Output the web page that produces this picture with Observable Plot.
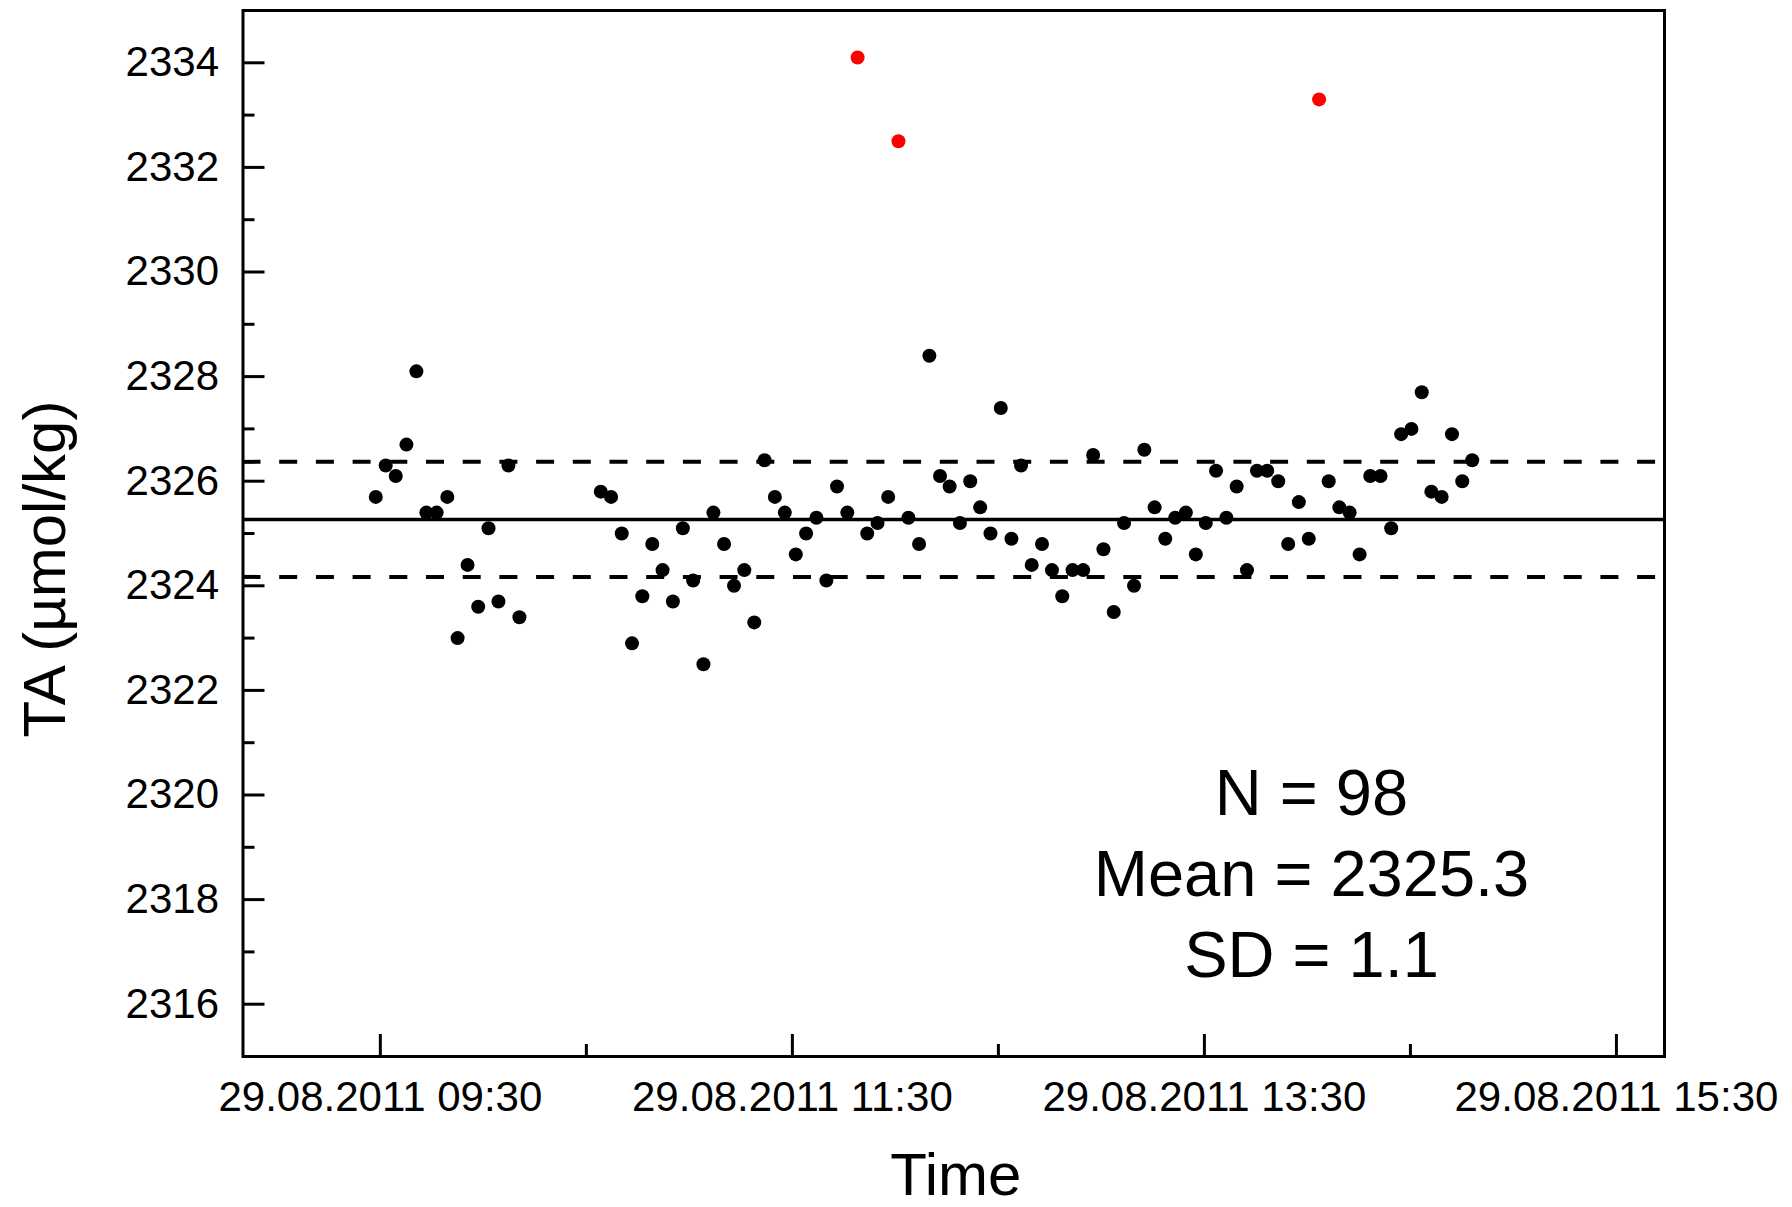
<!DOCTYPE html>
<html>
<head>
<meta charset="utf-8">
<script src="https://cdn.jsdelivr.net/npm/d3@7"></script>
<script src="https://cdn.jsdelivr.net/npm/@observablehq/plot@0.6"></script>
<style>
  html, body { margin: 0; padding: 0; background: #fff; }
  #chart svg { display: block; font-family: "Liberation Sans", Arial, sans-serif; }
</style>
</head>
<body>
<div id="chart"></div>
<script>
// ---- data (29.08.2011) ----
const sampleTimes = [
  "09:28:40","09:31:34","09:34:29","09:37:36","09:40:30","09:43:24","09:46:24","09:49:30","09:52:30","09:55:24",
  "09:58:30","10:01:30","10:04:24","10:07:18","10:10:30",
  "10:34:12","10:37:12","10:40:18","10:43:18","10:46:18","10:49:12","10:52:12","10:55:12","10:58:06","11:01:06",
  "11:04:06","11:07:00","11:10:06","11:13:00","11:16:00","11:18:54","11:21:54","11:24:54","11:27:48","11:31:00",
  "11:34:00","11:37:00","11:39:54","11:43:00","11:46:00","11:51:48","11:54:48","11:57:54","12:03:48","12:06:54",
  "12:09:54","12:13:00","12:15:48","12:18:48","12:21:48","12:24:42","12:27:42","12:30:42","12:33:48","12:36:36",
  "12:39:42","12:42:42","12:45:36","12:48:36","12:51:36","12:54:42","12:57:36","13:00:36","13:03:36","13:06:36",
  "13:09:30","13:12:30","13:15:30","13:18:36","13:21:30","13:24:36","13:27:30","13:30:24","13:33:24","13:36:24",
  "13:39:24","13:42:24","13:45:18","13:48:18","13:51:30","13:54:24","13:57:30","14:00:24","14:06:12","14:09:18",
  "14:12:18","14:15:12","14:18:18","14:21:18","14:24:24","14:27:18","14:30:18","14:33:18","14:36:06","14:39:06",
  "14:42:06","14:45:06","14:48:00"
];
const sampleTA = [
  2325.7, 2326.3, 2326.1, 2326.7, 2328.1, 2325.4, 2325.4, 2325.7, 2323.0, 2324.4,
  2323.6, 2325.1, 2323.7, 2326.3, 2323.4,
  2325.8, 2325.7, 2325.0, 2322.9, 2323.8, 2324.8, 2324.3, 2323.7, 2325.1, 2324.1,
  2322.5, 2325.4, 2324.8, 2324.0, 2324.3, 2323.3, 2326.4, 2325.7, 2325.4, 2324.6,
  2325.0, 2325.3, 2324.1, 2325.9, 2325.4, 2325.0, 2325.2, 2325.7, 2325.3, 2324.8,
  2328.4, 2326.1, 2325.9, 2325.2, 2326.0, 2325.5, 2325.0, 2327.4, 2324.9, 2326.3,
  2324.4, 2324.8, 2324.3, 2323.8, 2324.3, 2324.3, 2326.5, 2324.7, 2323.5, 2325.2,
  2324.0, 2326.6, 2325.5, 2324.9, 2325.3, 2325.4, 2324.6, 2325.2, 2326.2, 2325.3,
  2325.9, 2324.3, 2326.2, 2326.2, 2326.0, 2324.8, 2325.6, 2324.9, 2326.0, 2325.5,
  2325.4, 2324.6, 2326.1, 2326.1, 2325.1, 2326.9, 2327.0, 2327.7, 2325.8, 2325.7,
  2326.9, 2326.0, 2326.4
];
const outlierTimes = ["11:49:00", "12:00:54", "14:03:24"];
const outlierTA = [2334.1, 2332.5, 2333.3];

const meanTA = 2325.27;
const sdTA = 1.1;
const nSamples = 98;

const yMajorTicks = [2316, 2318, 2320, 2322, 2324, 2326, 2328, 2330, 2332, 2334];
const yMinorTicks = [2317, 2319, 2321, 2323, 2325, 2327, 2329, 2331, 2333];
const xMajorTicks = ["09:30", "11:30", "13:30", "15:30"];
const xMinorTicks = ["10:30", "12:30", "14:30"];
const xDomain = ["08:50", "15:44"];
const yDomain = [2315, 2335];
const datePrefix = "29.08.2011 ";

// ---- helpers ----
const toDate = s => {
  const [h, m, sec = 0] = s.split(":").map(Number);
  return new Date(Date.UTC(2011, 7, 29, h, m, sec));
};
const samples = sampleTimes.map((t, i) => ({time: toDate(t), ta: sampleTA[i]}));
const outliers = outlierTimes.map((t, i) => ({time: toDate(t), ta: outlierTA[i]}));
const fmtHM = d3.utcFormat("%H:%M");

const chart = Plot.plot({
  width: 1792,
  height: 1207,
  marginLeft: 242.5,
  marginRight: 128,
  marginTop: 10,
  marginBottom: 151,
  style: {background: "#fff", color: "#000", fontFamily: "'Liberation Sans', Arial, sans-serif"},
  x: {type: "utc", domain: xDomain.map(toDate)},
  y: {domain: yDomain},
  marks: [
    // mean and ±SD lines
    Plot.ruleY([meanTA], {stroke: "#000", strokeWidth: 3.5}),
    Plot.ruleY([meanTA - sdTA, meanTA + sdTA], {stroke: "#000", strokeWidth: 4, strokeDasharray: "18,18.7"}),
    // data
    Plot.dot(samples, {x: "time", y: "ta", r: 7, fill: "#000", stroke: "none"}),
    Plot.dot(outliers, {x: "time", y: "ta", r: 7, fill: "#ff0000", stroke: "none"}),
    // y axis: inward ticks + labels
    Plot.axisY(yMajorTicks, {tickSize: -22, strokeWidth: 3, tickFormat: () => "", label: null}),
    Plot.axisY(yMinorTicks, {tickSize: -12, strokeWidth: 3, tickFormat: () => "", label: null}),
    Plot.axisY(yMajorTicks, {tickSize: 0, tickPadding: 24, fontSize: 42, tickFormat: d => String(d), label: null}),
    // x axis: inward ticks + labels
    Plot.axisX(xMajorTicks.map(toDate), {tickSize: -22, strokeWidth: 3, tickFormat: () => "", label: null}),
    Plot.axisX(xMinorTicks.map(toDate), {tickSize: -12, strokeWidth: 3, tickFormat: () => "", label: null}),
    Plot.axisX(xMajorTicks.map(toDate), {tickSize: 0, tickPadding: 25, fontSize: 42, tickFormat: d => datePrefix + fmtHM(d), label: null}),
    // frame
    Plot.frame({stroke: "#000", strokeWidth: 3}),
    // axis titles
    Plot.text(["TA (µmol/kg)"], {frameAnchor: "left", dx: -197.5, dy: 35.5, rotate: -90, textAnchor: "middle", fontSize: 60, fill: "#000"}),
    Plot.text(["Time"], {frameAnchor: "bottom", dx: 2, dy: 96, textAnchor: "middle", lineAnchor: "top", fontSize: 60, fill: "#000"}),
    // statistics annotation
    Plot.text([`N = ${nSamples}\nMean = ${meanTA.toFixed(1)}\nSD = ${sdTA.toFixed(1)}`], {
      frameAnchor: "top-left", dx: 1068.5, dy: 747, textAnchor: "middle", lineAnchor: "top",
      lineHeight: 81 / 65, fontSize: 65, fill: "#000"
    })
  ]
});
document.getElementById("chart").appendChild(chart);
</script>
</body>
</html>
